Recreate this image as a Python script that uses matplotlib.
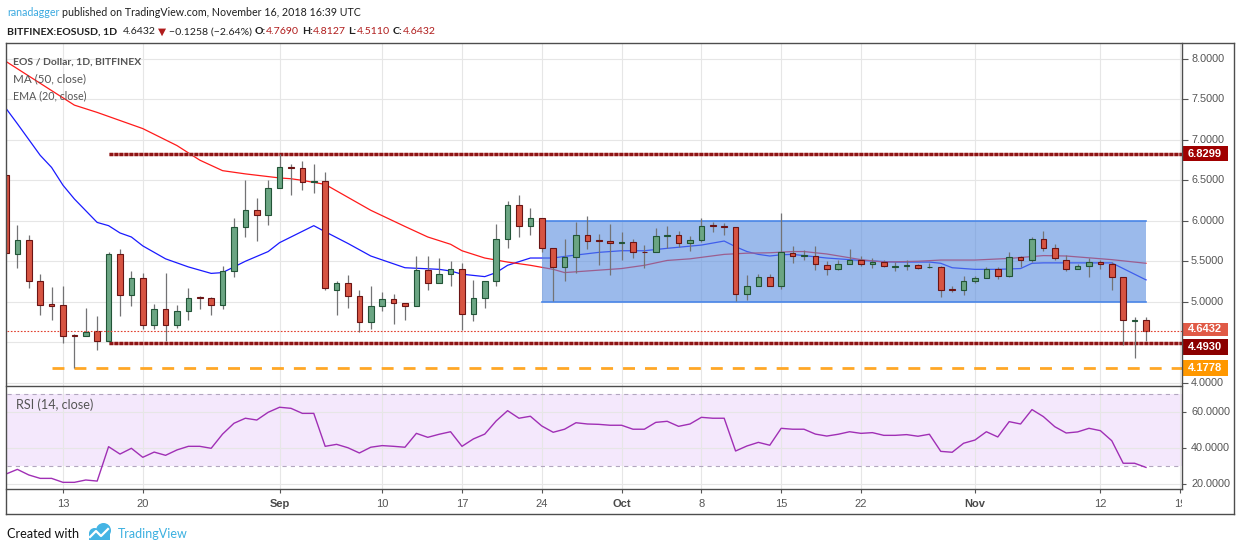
import matplotlib
matplotlib.use("Agg")
import matplotlib.pyplot as plt
import matplotlib.dates as mdates
from matplotlib.patches import Rectangle, Circle
from matplotlib.lines import Line2D
from matplotlib.transforms import IdentityTransform, blended_transform_factory
import pandas as pd

plt.rcParams["lines.scale_dashes"] = False

# ---------------- data ----------------
dates = pd.date_range("2018-08-08", "2018-11-16", freq="D")

opens = [
    6.57, 5.59, 5.76, 5.25, 4.97, 4.96, 4.59, 4.57, 4.64, 4.51,
    5.59, 5.08, 5.29, 4.71, 4.91, 4.71, 4.89, 5.06, 5.04, 4.955,
    5.38, 5.92, 6.13, 6.07, 6.41, 6.665, 6.65, 6.48, 6.49, 5.15,
    5.23, 5.07, 4.745, 4.95, 5.03, 4.99, 4.95, 5.39, 5.23, 5.34,
    5.41, 4.85, 5.05, 5.25, 5.77, 6.19, 5.94, 6.03, 5.67, 5.43,
    5.55, 5.83, 5.76, 5.745, 5.725, 5.735, 5.62, 5.615, 5.81, 5.83,
    5.72, 5.76, 5.945, 5.935, 5.925, 5.09, 5.20, 5.30, 5.20, 5.60,
    5.57, 5.57, 5.45, 5.40, 5.46, 5.51, 5.47, 5.49, 5.435, 5.44,
    5.455, 5.425, 5.435, 5.155, 5.14, 5.26, 5.29, 5.40, 5.32, 5.55,
    5.51, 5.78, 5.67, 5.52, 5.41, 5.44, 5.49, 5.46, 5.30, 4.765,
    4.769]
highs = [
    6.57, 5.95, 5.83, 5.34, 5.18, 5.19, 4.60, 4.92, 4.82, 5.61,
    5.65, 5.38, 5.35, 4.97, 5.36, 4.96, 5.17, 5.07, 5.06, 5.44,
    6.04, 6.50, 6.28, 6.50, 6.83, 6.70, 6.74, 6.70, 6.60, 5.25,
    5.33, 5.15, 5.19, 5.12, 5.10, 4.99, 5.57, 5.56, 5.54, 5.50,
    5.48, 5.27, 5.25, 5.96, 6.24, 6.32, 6.16, 6.04, 5.67, 5.78,
    5.98, 6.06, 5.84, 5.96, 5.86, 5.78, 5.70, 5.91, 5.94, 5.87,
    5.81, 6.04, 5.98, 5.97, 5.925, 5.33, 5.34, 5.34, 6.10, 5.69,
    5.64, 5.69, 5.50, 5.515, 5.65, 5.565, 5.54, 5.52, 5.49, 5.515,
    5.47, 5.48, 5.44, 5.19, 5.32, 5.32, 5.43, 5.43, 5.62, 5.565,
    5.80, 5.87, 5.71, 5.58, 5.47, 5.54, 5.52, 5.495, 5.30, 4.815,
    4.8127]
lows = [
    5.60, 5.42, 5.17, 4.83, 4.77, 4.49, 4.18, 4.57, 4.40, 4.50,
    4.82, 4.95, 4.66, 4.66, 4.51, 4.68, 4.77, 4.91, 4.83, 4.91,
    5.31, 5.80, 5.75, 5.95, 6.41, 6.32, 6.38, 6.34, 5.14, 4.84,
    4.92, 4.62, 4.66, 4.89, 4.73, 4.78, 4.95, 5.14, 5.23, 5.19,
    4.65, 4.76, 4.92, 5.19, 5.66, 5.80, 5.83, 5.61, 5.01, 5.25,
    5.36, 5.65, 5.45, 5.33, 5.52, 5.54, 5.42, 5.61, 5.66, 5.68,
    5.63, 5.74, 5.86, 5.82, 5.01, 5.02, 5.19, 5.19, 5.16, 5.48,
    5.52, 5.39, 5.33, 5.396, 5.46, 5.44, 5.42, 5.43, 5.38, 5.39,
    5.41, 5.42, 5.06, 5.12, 5.08, 5.235, 5.29, 5.28, 5.31, 5.43,
    5.495, 5.63, 5.51, 5.38, 5.41, 5.30, 5.40, 5.15, 4.47, 4.30,
    4.511]
closes = [
    5.60, 5.76, 5.25, 4.96, 4.95, 4.58, 4.57, 4.62, 4.51, 5.59,
    5.08, 5.29, 4.71, 4.91, 4.71, 4.89, 5.05, 5.045, 4.955, 5.38,
    5.92, 6.13, 6.07, 6.41, 6.66, 6.65, 6.48, 6.49, 5.17, 5.23,
    5.07, 4.745, 4.95, 5.03, 4.99, 4.95, 5.39, 5.23, 5.34, 5.41,
    4.85, 5.05, 5.25, 5.77, 6.19, 5.94, 6.03, 5.67, 5.43, 5.55,
    5.83, 5.75, 5.745, 5.72, 5.735, 5.62, 5.615, 5.81, 5.83, 5.72,
    5.76, 5.94, 5.935, 5.925, 5.09, 5.20, 5.30, 5.20, 5.61, 5.57,
    5.575, 5.46, 5.40, 5.46, 5.51, 5.46, 5.49, 5.44, 5.44, 5.455,
    5.42, 5.433, 5.15, 5.145, 5.26, 5.29, 5.40, 5.32, 5.55, 5.51,
    5.78, 5.67, 5.54, 5.41, 5.44, 5.49, 5.46, 5.30, 4.77, 4.769,
    4.6432]

rsi = [
    25.7, 28.3, 25.2, 23.3, 23.3, 21.1, 21.1, 22.4, 21.8, 40.9,
    36.8, 40.0, 35.0, 37.9, 36.1, 39.1, 41.1, 41.1, 40.0, 47.9,
    53.9, 56.7, 55.7, 60.0, 62.8, 62.2, 59.4, 59.4, 41.1, 42.2,
    40.3, 37.4, 40.6, 41.5, 41.1, 40.6, 48.3, 46.1, 47.8, 49.2,
    41.1, 45.2, 47.9, 55.2, 60.9, 56.7, 57.8, 52.4, 48.9, 50.6,
    54.2, 53.5, 53.3, 52.8, 52.8, 50.6, 50.6, 54.4, 55.0, 52.2,
    53.5, 57.2, 56.7, 56.7, 38.5, 41.3, 43.3, 41.7, 51.1, 50.6,
    50.6, 47.9, 46.8, 47.8, 49.2, 48.3, 48.7, 47.2, 47.2, 47.6,
    46.7, 47.8, 38.3, 37.8, 42.8, 44.6, 49.2, 46.3, 54.8, 53.5,
    61.5, 57.6, 52.0, 48.5, 49.1, 51.1, 49.8, 44.2, 31.7, 31.7,
    29.4]

# EMA(20) and MA(50) at candle indexes
ema_idx = [0, 1, 3, 4, 5, 6, 8, 9, 10, 11, 12, 14, 16, 18, 19, 20, 21, 23, 24, 25,
           26, 27, 28, 30, 32, 35, 38, 39, 40, 42, 43, 44, 46, 48, 49, 52, 54, 56, 58, 61,
           63, 64, 65, 66, 67, 68, 69, 70, 72, 75, 78, 81, 82, 83, 85, 87, 89, 90, 91, 93,
           95, 97, 98, 99, 100]
ema_vals = [7.39, 7.20, 6.81, 6.66, 6.44, 6.27, 5.98, 5.94, 5.85, 5.80, 5.69, 5.53, 5.43,
            5.35, 5.36, 5.43, 5.50, 5.62, 5.73, 5.80, 5.87, 5.94, 5.865, 5.72, 5.565, 5.42,
            5.40, 5.38, 5.34, 5.31, 5.36, 5.45, 5.54, 5.54, 5.56, 5.61, 5.63, 5.63, 5.66,
            5.70, 5.75, 5.68, 5.62, 5.585, 5.565, 5.58, 5.585, 5.57, 5.54, 5.51, 5.49, 5.49,
            5.475, 5.42, 5.40, 5.40, 5.41, 5.475, 5.48, 5.48, 5.48, 5.48, 5.41, 5.34, 5.27]
ma_idx = [0, 3, 6, 8, 12, 15, 17, 19, 21, 24, 25, 26, 28, 32, 35, 37, 39, 40, 42, 44,
          46, 48, 49, 51, 54, 56, 58, 60, 63, 65, 67, 69, 70, 72, 75, 77, 80, 82, 85, 88,
          91, 93, 97, 100]
ma_vals = [7.97, 7.70, 7.43, 7.34, 7.14, 6.93, 6.75, 6.62, 6.58, 6.53, 6.52, 6.50, 6.45,
           6.13, 5.93, 5.80, 5.71, 5.63, 5.54, 5.49, 5.45, 5.40, 5.36, 5.38, 5.41, 5.45,
           5.51, 5.53, 5.585, 5.60, 5.605, 5.62, 5.62, 5.59, 5.52, 5.49, 5.50, 5.515, 5.515,
           5.535, 5.57, 5.565, 5.52, 5.475]

tick_dates = ["2018-08-13", "2018-08-20", "2018-09-01", "2018-09-10", "2018-09-17",
              "2018-09-24", "2018-10-01", "2018-10-08", "2018-10-15", "2018-10-22",
              "2018-11-01", "2018-11-12", "2018-11-19"]
tick_labels = ["13", "20", "Sep", "10", "17", "24", "Oct", "8", "15", "22", "Nov", "12", "19"]
price_ticks = [4.0, 4.5, 5.0, 5.5, 6.0, 6.5, 7.0, 7.5, 8.0]
price_tick_labels_shown = [4.0, 5.0, 5.5, 6.0, 6.5, 7.0, 7.5, 8.0]  # 4.5 hidden under tag
rsi_ticks = [20, 40, 60]

resistance = 6.8299
support = 4.4930
low_level = 4.1778
last_price = 4.6432
range_start, range_end = "2018-09-24", "2018-11-16"
range_low, range_high = 5.0, 6.0
level_start = "2018-08-17"
low_level_start = "2018-08-12"

# ---------------- figure ----------------
W, H = 1240, 551
fig = plt.figure(figsize=(W / 100, H / 100), dpi=100)
fig.patch.set_facecolor("white")
renderer = fig.canvas.get_renderer()
ID = IdentityTransform()

def fx(px):
    return px / W

def fy(py):
    return 1 - py / H

L, R = 7, 1182
ax = fig.add_axes([fx(L), fy(386), (R - L) / W, (386 - 43) / H])
ax2 = fig.add_axes([fx(L), fy(489), (R - L) / W, (489 - 386) / H])

base = mdates.date2num(pd.Timestamp("2018-08-13"))
xl = (base - 4.91, base + 98.16)
xd = mdates.date2num(dates)
tick_x = mdates.date2num(pd.to_datetime(tick_dates))

for a in (ax, ax2):
    a.set_xlim(*xl)
    for s in a.spines.values():
        s.set_visible(False)
    a.set_xticks(tick_x)
    a.grid(True, color="#e6e6e6", lw=0.8, zorder=0)
    a.set_axisbelow(True)
    a.tick_params(labelbottom=False, labelleft=False, left=False, bottom=False,
                  right=True, labelright=False, direction="out", length=4,
                  color="#555555", width=0.8)
    a.set_facecolor("none")

ax.set_ylim(3.958, 8.198)
ax.set_yticks(price_ticks)
ax2.set_ylim(17.4, 74.6)
ax2.set_yticks(rsi_ticks)
ax2.tick_params(bottom=True, length=3)

# moving averages (under range box)
ax.plot(xd[ema_idx], ema_vals, color="#1a1aff", lw=0.9, zorder=1)
ax.plot(xd[ma_idx], ma_vals, color="#ff1a1a", lw=0.9, zorder=1)

# range box
rs = mdates.date2num(pd.Timestamp(range_start))
re_ = mdates.date2num(pd.Timestamp(range_end))
ax.add_patch(Rectangle((rs, range_low), re_ - rs, range_high - range_low,
                       fc=(0.35, 0.55, 0.87), alpha=0.6, ec="none", zorder=2))
ax.plot([rs, re_], [range_high, range_high], color="#4a86e8", lw=1.2, zorder=2.1)
ax.plot([rs, re_], [range_low, range_low], color="#4a86e8", lw=1.2, zorder=2.1)

# horizontal levels
ls = mdates.date2num(pd.Timestamp(level_start))
for lv in (resistance, support):
    ax.plot([ls, xl[1]], [lv, lv], color="#d38a8a", lw=2.4, zorder=2.5, solid_capstyle="butt")
    ax.plot([ls, xl[1]], [lv, lv], color="#8e1515", lw=2.4, zorder=2.6,
            dashes=(2.6, 1.0), dash_capstyle="butt")
lls = mdates.date2num(pd.Timestamp(low_level_start))
ax.plot([lls, xl[1]], [low_level, low_level], color="#ffa726", lw=2.0, zorder=2.5,
        dashes=(8.6, 7.2), dash_capstyle="butt")
ax.plot(list(xl), [last_price, last_price], color="#e0402f", lw=0.8, zorder=5,
        dashes=(1.2, 1.2))

# candles
bw = 0.5
for i in range(len(xd)):
    o, h, l, c = opens[i], highs[i], lows[i], closes[i]
    up = c >= o
    fc = "#6ba583" if up else "#d75442"
    ec = "#225437" if up else "#6b1414"
    ax.vlines(xd[i], l, h, color="#737375", lw=0.9, zorder=3)
    bot = min(o, c)
    hgt = max(abs(c - o), 0.004)
    ax.add_patch(Rectangle((xd[i] - bw / 2, bot), bw, hgt, fc=fc, ec=ec, lw=0.8, zorder=4))

# RSI
ax2.axhspan(30, 70, fc="#ead2fa", alpha=0.5, ec="none", zorder=0.5)
for lv in (30, 70):
    ax2.plot(list(xl), [lv, lv], color="#b2a6bf", lw=0.8, dashes=(3.0, 3.0), zorder=1)
ax2.plot(xd, rsi, color="#a02fb5", lw=1.0, zorder=3)

# ---------------- frame lines ----------------
def hline(x0, x1, y, color="#4d4d4d", lw=1.0):
    fig.add_artist(Line2D([x0, x1], [H - y, H - y], transform=ID, color=color, lw=lw))

def vline(x, y0, y1, color="#4d4d4d", lw=1.0):
    fig.add_artist(Line2D([x, x], [H - y0, H - y1], transform=ID, color=color, lw=lw))

hline(6, 1234, 42.5)
hline(6, 1234, 514)
vline(6, 42.5, 514)
vline(1234, 42.5, 514)
hline(6, 1182, 386)
hline(6, 1182, 489)
vline(1182, 42.5, 489)

# ---------------- text helpers ----------------
FAM = ["Lato", "DejaVu Sans"]

def put_line(x_px, base_px, pieces, size, target=None, family=FAM):
    def render(sz):
        sw_t = fig.text(0, 0, "n n", fontsize=sz, family=family, transform=ID)
        nn_t = fig.text(0, 0, "nn", fontsize=sz, family=family, transform=ID)
        sw = sw_t.get_window_extent(renderer).width - nn_t.get_window_extent(renderer).width
        sw_t.remove(); nn_t.remove()
        arts = []
        cx = x_px
        for txt, col, wt in pieces:
            lead = len(txt) - len(txt.lstrip(" "))
            trail = len(txt) - len(txt.rstrip(" "))
            core = txt.strip(" ")
            cx += lead * sw
            t = fig.text(cx, H - base_px, core, color=col, fontsize=sz, fontweight=wt,
                         family=family, transform=ID, ha="left", va="baseline")
            bb = t.get_window_extent(renderer)
            cx = bb.x1 + trail * sw
            arts.append(t)
        return arts, cx - x_px
    arts, w = render(size)
    if target:
        for a_ in arts:
            a_.remove()
        arts, w = render(size * target / w)
    return arts

DARK = "#1f1f1f"
RED = "#b01c1c"
put_line(7, 16, [("ranadagger", "#3aa9e0", "normal"),
                 (" published on TradingView.com, November 16, 2018 16:39 UTC", DARK, "normal")],
         9, target=353)
put_line(7, 34.5, [("BITFINEX:EOSUSD, 1D", DARK, "bold"), ("  4.6432 ", DARK, "normal"),
                   ("▼", RED, "normal"), (" −0.1258 (−2.64%) ", DARK, "normal"),
                   ("O:", DARK, "bold"), ("4.7690", RED, "normal"),
                   (" H:", DARK, "bold"), ("4.8127", RED, "normal"),
                   (" L:", DARK, "bold"), ("4.5110", RED, "normal"),
                   (" C:", DARK, "bold"), ("4.6432", RED, "normal")],
         9, target=428)

GRAY = "#555555"
put_line(13, 65, [("EOS / Dollar, 1D, BITFINEX", GRAY, "bold")], 9, target=128)
put_line(13, 82.7, [("MA (50, close)", GRAY, "normal")], 9, target=73)
put_line(13, 99.3, [("EMA (20, close)", GRAY, "normal")], 9, target=73)
put_line(15.5, 408.7, [("RSI (14, close)", GRAY, "normal")], 9, target=77)

put_line(7, 538.3, [("Created with", "#111111", "normal")], 10, target=72)
put_line(118.3, 538.3, [("TradingView", "#3bb0e0", "normal")], 10, target=70)

# TradingView logo (cloud shape)
LB = "#45b4e4"
for (cx_, cy_, r_) in [(94.5, 533.5, 5.5), (103.5, 530.5, 7.5)]:
    fig.add_artist(Circle((cx_, H - cy_), r_, transform=ID, fc=LB, ec="none"))
fig.add_artist(Rectangle((89, H - 539.5), 21, 7, transform=ID, fc=LB, ec="none"))
fig.add_artist(Line2D([90, 96, 101, 108], [H - 537, H - 531, H - 536, H - 529],
                      transform=ID, color="white", lw=1.6))

# price axis labels
AXF = ["Liberation Sans", "DejaVu Sans"]
ytr = blended_transform_factory(ID, ax.transData)
price_clip = Rectangle((1182, H - 386), 60, 343, transform=ID)
for v in price_tick_labels_shown:
    t = ax.text(1191, v, f"{v:.4f}", transform=ytr, ha="left", va="center",
                fontsize=7.8, color=GRAY, family=AXF, clip_on=True)
    t.set_clip_path(price_clip)
ytr2 = blended_transform_factory(ID, ax2.transData)
for v in rsi_ticks:
    ax2.text(1191, v, f"{v:.4f}", transform=ytr2, ha="left", va="center",
             fontsize=7.8, color=GRAY, family=AXF, clip_on=False)

# price tags on the axis
tags = [(resistance, "#a00000", 0.0, 15), (last_price, "#e05a46", -1.5, 13),
        (support, "#8b0000", 4.5, 15.5), (low_level, "#ff9800", 0.0, 16)]
for val, col, off, hh in tags:
    ypix = ax.transData.transform((xl[0], val))[1] - off
    fig.add_artist(Rectangle((1182.5, ypix - hh / 2), 45, hh, transform=ID, fc=col, ec="none"))
    fig.text(1188, ypix, f"{val:.4f}", transform=ID, ha="left", va="center",
             fontsize=8, color="white", fontweight="bold", family=AXF)

# time axis labels
xtr = blended_transform_factory(ax2.transData, ID)
time_clip = Rectangle((0, 0), 1182, H, transform=ID)
for xv, lab in zip(tick_x, tick_labels):
    bold = lab in ("Sep", "Oct", "Nov")
    t = ax2.text(xv, H - 507.3, lab, transform=xtr, ha="center", va="baseline",
                 fontsize=8, color="#4a4a4a" if bold else GRAY,
                 fontweight="bold" if bold else "normal", family=AXF, clip_on=True)
    t.set_clip_path(time_clip)

fig.savefig("out.png", dpi=100, facecolor="white")
